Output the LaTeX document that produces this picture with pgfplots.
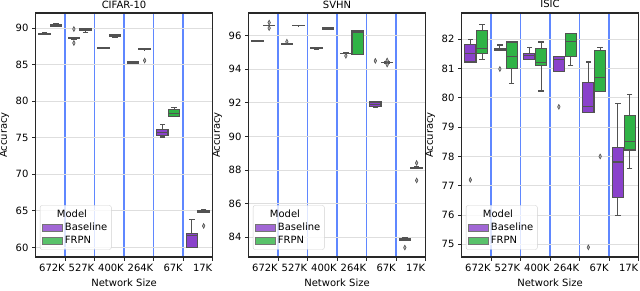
\documentclass[border=0pt]{standalone}
\usepackage{fontspec}
\setmainfont{DejaVu Sans}
\usepackage{pgfplots}
\pgfplotsset{compat=1.18}
\definecolor{bpurple}{RGB}{138,66,203}
\definecolor{fgreen}{RGB}{48,179,70}
\definecolor{edgegray}{RGB}{82,82,82}
\definecolor{gridblue}{RGB}{95,135,255}
\definecolor{gridgray}{RGB}{222,222,222}
\definecolor{framec}{RGB}{40,40,40}
% #1 position, #2 lower whisker, #3 lower quartile, #4 median, #5 upper quartile, #6 upper whisker, #7 fill colour
\newcommand{\bx}[7]{%
  \pgfmathsetmacro\xl{#1-0.19}\pgfmathsetmacro\xr{#1+0.19}%
  \addplot[draw=edgegray, line width=1.1pt, mark=-, mark size=2.8pt, mark options={solid, line width=1.1pt}, forget plot] coordinates {(#1,#3) (#1,#2)};
  \addplot[draw=edgegray, line width=1.1pt, mark=-, mark size=2.8pt, mark options={solid, line width=1.1pt}, forget plot] coordinates {(#1,#5) (#1,#6)};
  \addplot[draw=edgegray, fill=#7, line width=1.1pt, line join=miter, mark=none, forget plot] coordinates {(\xl,#3) (\xr,#3) (\xr,#5) (\xl,#5) (\xl,#3)} -- cycle;
  \addplot[draw=edgegray, line width=1.1pt, mark=none, forget plot] coordinates {(\xl,#4) (\xr,#4)};
}
\pgfplotsset{
  outl/.style={only marks, mark=diamond*, mark size=2.4pt, mark options={xscale=0.7, fill=gray!55, draw=edgegray, line width=0.6pt}, forget plot},
  panel/.style={scale only axis, width=177pt, height=244pt, anchor=south west,
    xmin=-0.5, xmax=5.5,
    xtick={0.5,1.5,2.5,3.5,4.5,5.5},
    xticklabels={672K,527K,400K,264K,67K,17K},
    xticklabel style={anchor=north east, inner xsep=0pt},
    xmajorgrids, ymajorgrids,
    x grid style={gridblue, line width=1.1pt},
    y grid style={gridgray, line width=1pt},
    axis line style={framec, line width=1.2pt},
    tick style={framec, line width=1pt},
    tick align=outside, major tick length=3.5pt,
    xtick pos=bottom, ytick pos=left,
    /pgf/number format/assume math mode=true,
    font=\fontsize{10}{12}\selectfont,
    tick label style={font=\fontsize{10}{12}\selectfont},
    every axis title shift=0pt,
    title style={anchor=base, yshift=5pt},
    ylabel={Accuracy}, xlabel={Network Size},
    legend style={at={(axis description cs:0.025,0.03)}, anchor=south west, draw=gray!35, rounded corners=2pt, fill=white, fill opacity=0.8, text opacity=1, font=\fontsize{10}{12}\selectfont, row sep=0.5pt, inner sep=2pt},
    legend cell align=left,
    legend image code/.code={\draw[sharp corners, #1] (0pt,-3.5pt) rectangle (20pt,3.5pt);},
  }
}
\begin{document}
\begin{tikzpicture}
\path[use as bounding box] (0pt,0pt) rectangle (640pt,290pt);
% CIFAR-10
\begin{axis}[panel, at={(35.5pt,33pt)}, title={CIFAR-10}, ymin=58.7, ymax=92.05, ytick={60,65,70,75,80,85,90}]
\addlegendimage{empty legend}\addlegendentry{\hspace{-8pt}Model}
\addlegendimage{fill=bpurple, draw=edgegray!80, line width=0.8pt}\addlegendentry{Baseline}
\addlegendimage{fill=fgreen, draw=edgegray!80, line width=0.8pt}\addlegendentry{FRPN}
\bx{-0.2}{89.1}{89.15}{89.2}{89.3}{89.35}{bpurple}
\bx{0.2}{90.15}{90.25}{90.35}{90.45}{90.55}{fgreen}
\bx{0.8}{88.5}{88.55}{88.63}{88.7}{88.75}{bpurple}
\bx{1.2}{89.4}{89.72}{89.8}{89.9}{89.95}{fgreen}
\bx{1.8}{87.2}{87.23}{87.27}{87.32}{87.35}{bpurple}
\bx{2.2}{88.7}{88.8}{88.95}{89.05}{89.1}{fgreen}
\bx{2.8}{85.15}{85.2}{85.3}{85.4}{85.45}{bpurple}
\bx{3.2}{87.0}{87.03}{87.08}{87.13}{87.15}{fgreen}
\bx{3.8}{75.1}{75.3}{75.7}{76.07}{76.84}{bpurple}
\bx{4.2}{77.9}{77.9}{78.35}{78.8}{79.15}{fgreen}
\bx{4.8}{60.05}{60.05}{61.6}{61.95}{63.85}{bpurple}
\bx{5.2}{64.8}{64.85}{65.0}{65.1}{65.2}{fgreen}
\addplot[outl] coordinates {(0.8,89.86) (0.8,87.95) (3.2,85.55) (5.2,62.95)};
\end{axis}
% SVHN
\begin{axis}[panel, at={(248.5pt,33pt)}, title={SVHN}, ymin=82.82, ymax=97.35, ytick={84,86,88,90,92,94,96}]
\addlegendimage{empty legend}\addlegendentry{\hspace{-8pt}Model}
\addlegendimage{fill=bpurple, draw=edgegray!80, line width=0.8pt}\addlegendentry{Baseline}
\addlegendimage{fill=fgreen, draw=edgegray!80, line width=0.8pt}\addlegendentry{FRPN}
\bx{-0.2}{95.66}{95.67}{95.68}{95.69}{95.7}{bpurple}
\bx{0.2}{96.58}{96.59}{96.6}{96.62}{96.63}{fgreen}
\bx{0.8}{95.47}{95.48}{95.5}{95.52}{95.53}{bpurple}
\bx{1.2}{96.59}{96.6}{96.6}{96.61}{96.62}{fgreen}
\bx{1.8}{95.2}{95.21}{95.25}{95.29}{95.3}{bpurple}
\bx{2.2}{96.38}{96.4}{96.44}{96.48}{96.5}{fgreen}
\bx{2.8}{94.93}{94.94}{94.95}{94.96}{94.97}{bpurple}
\bx{3.2}{94.9}{94.9}{96.22}{96.3}{96.3}{fgreen}
\bx{3.8}{91.75}{91.8}{91.9}{92.05}{92.08}{bpurple}
\bx{4.2}{94.37}{94.38}{94.4}{94.42}{94.43}{fgreen}
\bx{4.8}{83.8}{83.83}{83.88}{83.93}{83.97}{bpurple}
\bx{5.2}{88.08}{88.1}{88.13}{88.16}{88.18}{fgreen}
\addplot[outl] coordinates {(0.2,96.78) (0.2,96.45) (0.8,95.64) (2.8,94.8) (3.8,94.5) (4.2,94.52) (4.2,94.28) (4.8,83.38) (5.2,88.42) (5.2,87.38)};
\end{axis}
% ISIC
\begin{axis}[panel, at={(461.5pt,33pt)}, title={ISIC}, ymin=74.57, ymax=82.89, ytick={75,76,77,78,79,80,81,82}]
\addlegendimage{empty legend}\addlegendentry{\hspace{-8pt}Model}
\addlegendimage{fill=bpurple, draw=edgegray!80, line width=0.8pt}\addlegendentry{Baseline}
\addlegendimage{fill=fgreen, draw=edgegray!80, line width=0.8pt}\addlegendentry{FRPN}
\bx{-0.2}{81.2}{81.22}{81.51}{81.82}{82.0}{bpurple}
\bx{0.2}{81.31}{81.51}{81.68}{82.3}{82.5}{fgreen}
\bx{0.8}{81.6}{81.6}{81.63}{81.68}{81.8}{bpurple}
\bx{1.2}{80.5}{81.0}{81.4}{81.9}{81.9}{fgreen}
\bx{1.8}{81.3}{81.3}{81.45}{81.52}{81.7}{bpurple}
\bx{2.2}{80.23}{81.1}{81.2}{81.68}{81.9}{fgreen}
\bx{2.8}{80.91}{80.91}{81.31}{81.4}{81.4}{bpurple}
\bx{3.2}{81.11}{81.4}{81.91}{82.2}{82.2}{fgreen}
\bx{3.8}{79.5}{79.51}{79.71}{80.51}{81.22}{bpurple}
\bx{4.2}{80.2}{80.2}{80.7}{81.61}{81.7}{fgreen}
\bx{4.8}{76.0}{76.6}{77.81}{78.31}{79.8}{bpurple}
\bx{5.2}{77.59}{78.22}{78.5}{79.41}{80.1}{fgreen}
\addplot[outl] coordinates {(-0.2,77.2) (0.8,80.98) (2.8,79.69) (3.8,74.9) (4.2,78.0)};
\end{axis}
\end{tikzpicture}
\end{document}
